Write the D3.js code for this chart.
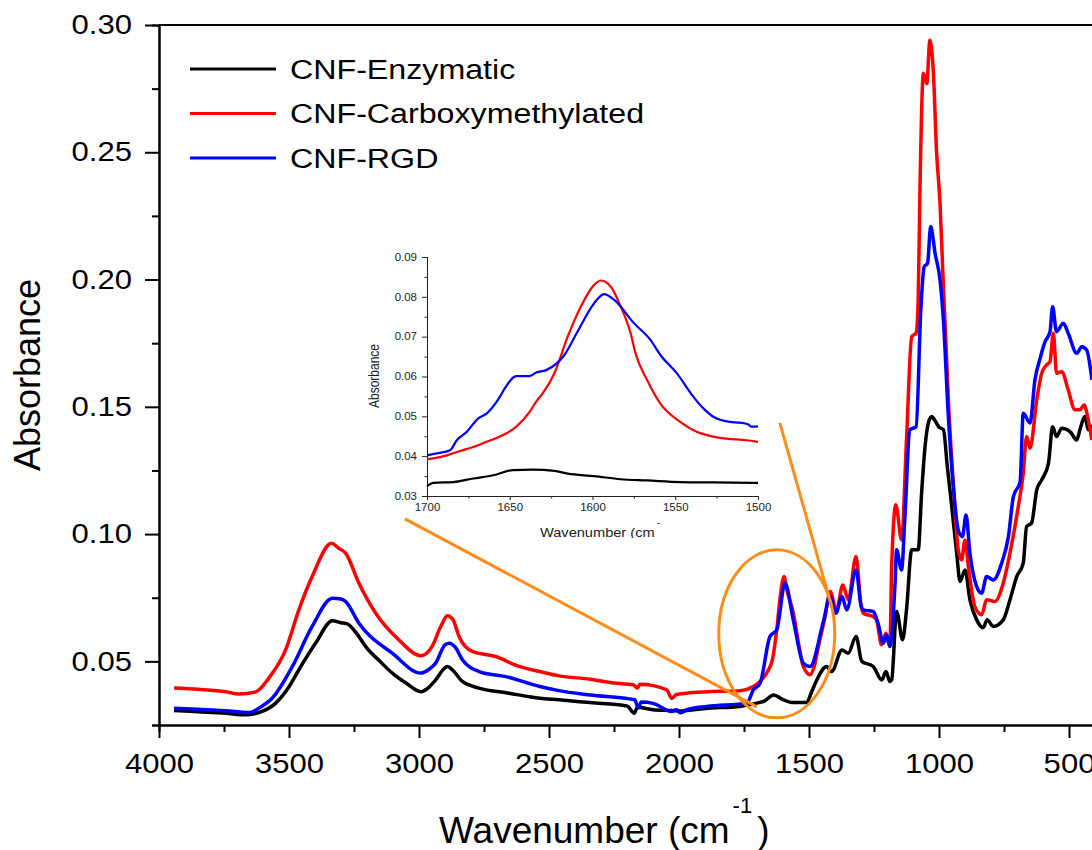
<!DOCTYPE html>
<html>
<head>
<meta charset="utf-8">
<script src="https://cdn.jsdelivr.net/npm/d3@7"></script>
<style>
  body { margin: 0; background: #fff; }
  svg { display: block; }
  text { font-family: "Liberation Sans", Arial, sans-serif; }
</style>
</head>
<body>
<div id="chart"></div>
<script>
// FTIR spectra, [wavenumber cm-1, absorbance]
const enzymatic = [
  [3942,0.0307],[3850,0.0302],[3743,0.0296],[3667,0.029],[3615,0.0299],[3551,0.0336],[3500,0.040],
  [3462,0.0467],[3398,0.0571],[3333,0.066],[3300,0.0652],[3276,0.0647],[3240,0.061],[3205,0.0558],
  [3150,0.050],[3103,0.0454],[3050,0.0415],[2993,0.0381],[2960,0.040],[2936,0.0427],[2905,0.047],
  [2891,0.048],[2870,0.0465],[2833,0.0421],[2769,0.0395],[2654,0.0375],[2535,0.0355],[2462,0.0349],
  [2342,0.0338],[2200,0.0325],[2172,0.0296],[2160,0.032],[2100,0.031],[2028,0.0307],[1990,0.0305],
  [1900,0.0315],[1765,0.0323],[1701,0.0336],[1670,0.0345],[1637,0.0368],[1600,0.035],[1560,0.0338],
  [1509,0.0338],[1490,0.038],[1470,0.0427],[1432,0.048],[1413,0.046],[1373,0.0545],[1349,0.0532],
  [1319,0.0598],[1297,0.05],[1253,0.048],[1220,0.0427],[1204,0.046],[1189,0.0421],[1182,0.0427],
  [1163,0.0696],[1140,0.0585],[1125,0.0702],[1105,0.0938],[1080,0.0938],[1067,0.116],[1054,0.134],
  [1040,0.144],[1028,0.1462],[1015,0.1445],[1000,0.142],[983,0.141],[968,0.1265],[951,0.1108],
  [932,0.0925],[919,0.0814],[900,0.0859],[881,0.0742],[855,0.0663],[830,0.0632],[815,0.0663],
  [791,0.0637],[753,0.0663],[727,0.0742],[701,0.0833],[676,0.0886],[663,0.103],[644,0.1043],
  [624,0.1174],[605,0.1213],[579,0.1278],[563,0.1422],[548,0.1383],[528,0.1416],[496,0.1403],
  [470,0.137],[458,0.141],[438,0.1462],[426,0.141],[405,0.143]
];
const carboxymethylated = [
  [3942,0.0395],[3850,0.039],[3743,0.0381],[3692,0.0372],[3628,0.038],[3577,0.0435],[3513,0.0545],
  [3462,0.0702],[3411,0.0833],[3336,0.0964],[3310,0.0945],[3282,0.0925],[3231,0.0807],[3167,0.069],
  [3077,0.0584],[2993,0.0522],[2950,0.0558],[2915,0.064],[2891,0.0679],[2870,0.0665],[2846,0.0598],
  [2795,0.0539],[2705,0.0519],[2615,0.048],[2535,0.046],[2462,0.0443],[2342,0.043],[2250,0.0415],
  [2176,0.0408],[2160,0.0395],[2150,0.041],[2047,0.0388],[2028,0.0355],[2010,0.037],[1970,0.0375],
  [1900,0.038],[1765,0.0385],[1714,0.0401],[1690,0.042],[1663,0.0454],[1640,0.051],[1624,0.0624],
  [1610,0.076],[1596,0.0833],[1585,0.078],[1560,0.0689],[1540,0.057],[1522,0.048],[1496,0.0447],
  [1480,0.048],[1464,0.0558],[1438,0.0676],[1419,0.0774],[1394,0.0702],[1370,0.080],[1349,0.0742],
  [1319,0.0912],[1300,0.072],[1291,0.0689],[1253,0.0676],[1240,0.0663],[1221,0.0565],[1204,0.061],
  [1189,0.0558],[1182,0.0872],[1166,0.1115],[1144,0.0977],[1125,0.137],[1105,0.1776],[1088,0.179],
  [1080,0.192],[1073,0.2365],[1060,0.281],[1047,0.277],[1035,0.294],[1022,0.282],[1009,0.2496],
  [996,0.23],[983,0.197],[977,0.184],[964,0.1527],[945,0.12],[926,0.0938],[913,0.0899],[900,0.0977],
  [887,0.0872],[862,0.0715],[836,0.0683],[817,0.0742],[785,0.0735],[753,0.0807],[727,0.0925],
  [695,0.1108],[676,0.1239],[663,0.1383],[650,0.1337],[624,0.1527],[605,0.1632],[586,0.1665],
  [573,0.1678],[560,0.1789],[548,0.1632],[528,0.1638],[503,0.1566],[477,0.1488],[458,0.1488],
  [442,0.1507],[426,0.1449],[412,0.137]
];
const rgd = [
  [3942,0.0316],[3850,0.0312],[3743,0.0306],[3650,0.0299],[3615,0.0317],[3564,0.0356],[3487,0.048],
  [3411,0.0637],[3333,0.0748],[3300,0.0745],[3282,0.0735],[3231,0.065],[3103,0.0532],[2993,0.0454],
  [2960,0.047],[2936,0.0493],[2900,0.0565],[2884,0.0571],[2860,0.0555],[2833,0.0506],[2769,0.046],
  [2666,0.044],[2535,0.0401],[2462,0.0385],[2342,0.0368],[2170,0.0349],[2157,0.0317],[2145,0.034],
  [2100,0.0335],[2028,0.0303],[2010,0.031],[1995,0.0298],[1970,0.031],[1893,0.0323],[1739,0.0336],
  [1714,0.0388],[1688,0.0414],[1650,0.0598],[1624,0.0624],[1592,0.0807],[1560,0.066],[1522,0.0493],
  [1496,0.048],[1444,0.066],[1419,0.0755],[1397,0.0689],[1373,0.0755],[1355,0.0702],[1319,0.0859],
  [1300,0.072],[1291,0.0702],[1253,0.0696],[1233,0.0644],[1214,0.0571],[1201,0.0604],[1189,0.0558],
  [1169,0.0807],[1163,0.0938],[1144,0.0859],[1131,0.1069],[1112,0.141],[1088,0.1422],[1070,0.188],
  [1057,0.205],[1044,0.2064],[1032,0.2208],[1015,0.2103],[996,0.1998],[983,0.184],[964,0.1462],
  [945,0.1187],[926,0.1016],[910,0.099],[896,0.1075],[881,0.0925],[855,0.0794],[836,0.0768],
  [817,0.0833],[791,0.082],[759,0.0886],[733,0.099],[714,0.1147],[688,0.1206],[676,0.1475],
  [650,0.1436],[631,0.1606],[611,0.1691],[592,0.1756],[573,0.1795],[563,0.1893],[548,0.1795],
  [522,0.1828],[503,0.1789],[470,0.171],[451,0.1736],[432,0.1723],[412,0.1606]
];

// zoomed inset 1700-1500 cm-1
const insetEnzymatic = [
  [1700,0.0325],[1696,0.0333],[1684,0.0335],[1672,0.0344],[1660,0.0352],[1648,0.0365],[1636,0.0366],
  [1623,0.0363],[1615,0.0356],[1599,0.035],[1583,0.0342],[1567,0.0339],[1547,0.0335],[1527,0.0334],
  [1500,0.0333]
];
const insetCarboxymethylated = [
  [1700,0.0392],[1688,0.0402],[1680,0.0413],[1672,0.0423],[1664,0.0436],[1654,0.0453],[1646,0.0474],
  [1638,0.0511],[1634,0.0537],[1630,0.0558],[1623,0.0608],[1615,0.07],[1607,0.0776],[1599,0.083],
  [1595,0.0841],[1589,0.0826],[1583,0.0776],[1577,0.0709],[1574,0.0658],[1567,0.0591],[1559,0.0532],
  [1547,0.0486],[1537,0.0461],[1527,0.0449],[1519,0.0444],[1507,0.044],[1500,0.0436]
];
const insetRgd = [
  [1700,0.0402],[1694,0.0407],[1686,0.0415],[1682,0.044],[1676,0.0461],[1669,0.0495],[1664,0.0507],
  [1656,0.0549],[1653,0.057],[1646,0.0601],[1638,0.0601],[1634,0.061],[1628,0.0616],[1617,0.0654],
  [1609,0.0713],[1599,0.0784],[1593,0.0807],[1587,0.0793],[1575,0.0734],[1565,0.0692],[1559,0.0654],
  [1549,0.0608],[1539,0.0549],[1533,0.052],[1527,0.0499],[1517,0.0486],[1511,0.0484],[1506,0.048],
  [1504,0.0474],[1500,0.0475]
];

const seriesNames  = ['CNF-Enzymatic', 'CNF-Carboxymethylated', 'CNF-RGD'];
const seriesColors = ['#000000', '#ff0000', '#0000ff'];
const mainSeries   = [enzymatic, carboxymethylated, rgd];
const insetSeries  = [insetEnzymatic, insetCarboxymethylated, insetRgd];

const xMajorTicks = [4000, 3500, 3000, 2500, 2000, 1500, 1000, 500];
const xMinorTicks = [3750, 3250, 2750, 2250, 1750, 1250, 750];
const yMajorTicks = [0.05, 0.10, 0.15, 0.20, 0.25, 0.30];
const yMinorTicks = [0.025, 0.075, 0.125, 0.175, 0.225, 0.275];
const insetXTicks = [1700, 1650, 1600, 1550, 1500];
const insetXMinor = [1675, 1625, 1575, 1525];
const insetYTicks = [0.03, 0.04, 0.05, 0.06, 0.07, 0.08, 0.09];
const insetYMinor = [0.035, 0.045, 0.055, 0.065, 0.075, 0.085];

// zoom annotation, in main-plot data units
const calloutLines = [
  [[3054, 0.106], [1700, 0.0321]],
  [[1612, 0.1437], [1413, 0.0715]]
];
const calloutEllipse = { wn: 1624, abs: 0.0608, rWn: 223, rAbs: 0.033 };

const W = 1092, H = 850;
const STRETCH = 1.15;   // tick/legend text in the source is horizontally widened
const ORANGE = '#ff8c1a';

const svg = d3.select('#chart').append('svg')
  .attr('width', W).attr('height', H);

const x = d3.scaleLinear().domain([4000, 400]).range([159, 1095]);
const y = d3.scaleLinear().domain([0.025, 0.30]).range([725, 25]);

// ---- main axes
function styleAxis(g, width) {
  g.select('.domain').attr('stroke', '#000').attr('stroke-width', width);
  g.selectAll('.tick line').attr('stroke', '#000').attr('stroke-width', width);
}

const xMinorG = svg.append('g').attr('transform', 'translate(0,725)')
  .call(d3.axisBottom(x).tickValues(xMinorTicks).tickSize(7).tickFormat(''));
styleAxis(xMinorG, 2);

const xAxisG = svg.append('g').attr('transform', 'translate(0,725)')
  .call(d3.axisBottom(x).tickValues(xMajorTicks).tickSizeInner(13).tickSizeOuter(0)
    .tickPadding(16).tickFormat(d3.format('d')));
styleAxis(xAxisG, 2);
xAxisG.selectAll('text')
  .attr('font-size', 27).attr('fill', '#000')
  .attr('transform', `scale(${STRETCH},1)`);

const yMinorG = svg.append('g').attr('transform', 'translate(159,0)')
  .call(d3.axisLeft(y).tickValues(yMinorTicks).tickSize(7).tickFormat(''));
styleAxis(yMinorG, 2);

const yAxisG = svg.append('g').attr('transform', 'translate(159,0)')
  .call(d3.axisLeft(y).tickValues(yMajorTicks).tickSizeInner(14).tickSizeOuter(0)
    .tickFormat(d3.format('.2f')));
styleAxis(yAxisG, 2);
yAxisG.selectAll('text')
  .attr('font-size', 27).attr('fill', '#000')
  .attr('x', -27 / STRETCH)
  .attr('transform', `scale(${STRETCH},1)`);

// top frame line
svg.append('line')
  .attr('x1', x(4000)).attr('x2', x(400))
  .attr('y1', y(0.30)).attr('y2', y(0.30))
  .attr('stroke', '#000').attr('stroke-width', 2);

// axis titles
svg.append('text')
  .attr('transform', 'translate(40,375) rotate(-90)')
  .attr('text-anchor', 'middle')
  .attr('font-size', 36)
  .text('Absorbance');

const xt = svg.append('text')
  .attr('x', 439).attr('y', 843)
  .attr('font-size', 37);
xt.append('tspan').text('Wavenumber (cm');
xt.append('tspan').attr('dx', 3).attr('dy', -30).attr('font-size', 22).text('-1');
xt.append('tspan').attr('dx', 5).attr('dy', 30).text(')');

// ---- spectra
const line = d3.line()
  .x(d => x(d[0]))
  .y(d => y(d[1]))
  .curve(d3.curveMonotoneX);

mainSeries.forEach((data, i) => {
  svg.append('path')
    .datum(data)
    .attr('d', line)
    .attr('fill', 'none')
    .attr('stroke', seriesColors[i])
    .attr('stroke-width', 3.5)
    .attr('stroke-linejoin', 'round');
});

// ---- legend
const legend = svg.append('g');
seriesNames.forEach((name, i) => {
  const ly = 69 + i * 44.5;
  legend.append('line')
    .attr('x1', 190).attr('x2', 276)
    .attr('y1', ly).attr('y2', ly)
    .attr('stroke', seriesColors[i])
    .attr('stroke-width', 3);
  legend.append('text')
    .attr('transform', `translate(290,${ly}) scale(${STRETCH},1)`)
    .attr('dy', '0.35em')
    .attr('font-size', 28)
    .text(name);
});

// ---- inset
const ix = d3.scaleLinear().domain([1700, 1500]).range([427, 758]);
const iy = d3.scaleLinear().domain([0.03, 0.09]).range([496, 257]);

svg.append('clipPath').attr('id', 'insetClip')
  .append('rect').attr('x', 340).attr('y', 240).attr('width', 440).attr('height', 298);

const inset = svg.append('g').attr('clip-path', 'url(#insetClip)');

function styleInset(g) {
  g.select('.domain').attr('stroke', '#222').attr('stroke-width', 1);
  g.selectAll('.tick line').attr('stroke', '#222').attr('stroke-width', 1);
}

const ixMinor = inset.append('g').attr('transform', 'translate(0,496)')
  .call(d3.axisBottom(ix).tickValues(insetXMinor).tickSize(2.5).tickFormat(''));
styleInset(ixMinor);
const ixAxis = inset.append('g').attr('transform', 'translate(0,496)')
  .call(d3.axisBottom(ix).tickValues(insetXTicks).tickSizeInner(4).tickSizeOuter(0)
    .tickPadding(4).tickFormat(d3.format('d')));
styleInset(ixAxis);
ixAxis.selectAll('text')
  .attr('font-size', 10).attr('fill', '#222')
  .attr('transform', `scale(${STRETCH},1)`);

const iyMinor = inset.append('g').attr('transform', 'translate(427,0)')
  .call(d3.axisLeft(iy).tickValues(insetYMinor).tickSize(2.5).tickFormat(''));
styleInset(iyMinor);
const iyAxis = inset.append('g').attr('transform', 'translate(427,0)')
  .call(d3.axisLeft(iy).tickValues(insetYTicks).tickSizeInner(5).tickSizeOuter(0)
    .tickFormat(d3.format('.2f')));
styleInset(iyAxis);
iyAxis.selectAll('text')
  .attr('font-size', 10).attr('fill', '#222')
  .attr('x', -10 / STRETCH)
  .attr('transform', `scale(${STRETCH},1)`);

inset.append('text')
  .attr('transform', `translate(379,376) rotate(-90) scale(1,${STRETCH})`)
  .attr('text-anchor', 'middle')
  .attr('font-size', 12)
  .attr('fill', '#222')
  .text('Absorbance');

const ixt = inset.append('text')
  .attr('transform', `translate(540,537) scale(${STRETCH},1)`)
  .attr('font-size', 12.7)
  .attr('fill', '#222');
ixt.append('tspan').text('Wavenumber (cm');
ixt.append('tspan').attr('dx', 2).attr('dy', -11).attr('font-size', 9).text('-');

const iline = d3.line()
  .x(d => ix(d[0]))
  .y(d => iy(d[1]))
  .curve(d3.curveMonotoneX);

insetSeries.forEach((data, i) => {
  inset.append('path')
    .datum(data)
    .attr('d', iline)
    .attr('fill', 'none')
    .attr('stroke', seriesColors[i])
    .attr('stroke-width', 2.2)
    .attr('stroke-linejoin', 'round');
});

// ---- orange call-out
calloutLines.forEach(seg => {
  svg.append('line')
    .attr('x1', x(seg[0][0])).attr('y1', y(seg[0][1]))
    .attr('x2', x(seg[1][0])).attr('y2', y(seg[1][1]))
    .attr('stroke', ORANGE)
    .attr('stroke-width', 3);
});

svg.append('ellipse')
  .attr('cx', x(calloutEllipse.wn))
  .attr('cy', y(calloutEllipse.abs))
  .attr('rx', Math.abs(x(calloutEllipse.wn + calloutEllipse.rWn) - x(calloutEllipse.wn)))
  .attr('ry', Math.abs(y(calloutEllipse.abs + calloutEllipse.rAbs) - y(calloutEllipse.abs)))
  .attr('fill', 'none')
  .attr('stroke', ORANGE)
  .attr('stroke-width', 3);
</script>
</body>
</html>
